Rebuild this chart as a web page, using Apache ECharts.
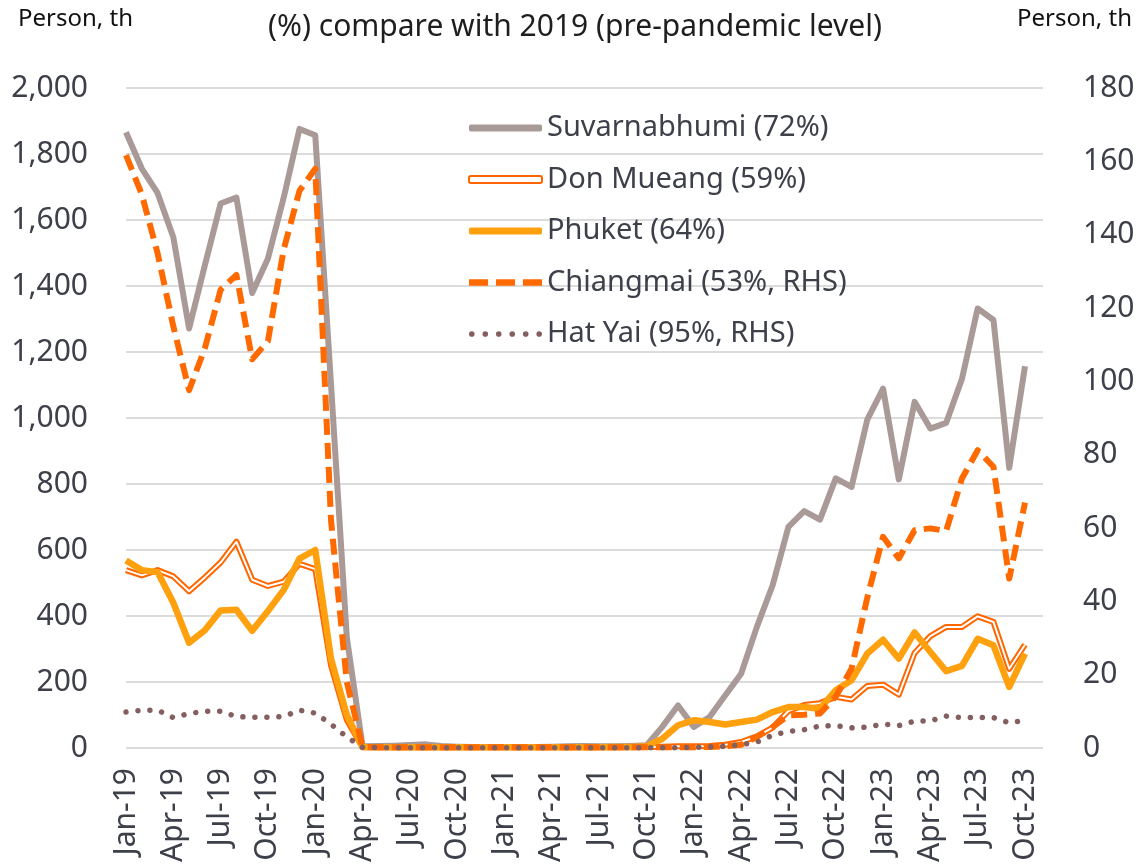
<!DOCTYPE html>
<html><head><meta charset="utf-8">
<script src="https://cdn.jsdelivr.net/npm/echarts@6/dist/echarts.min.js"></script>
<style>html,body{margin:0;padding:0;background:#fff}#c{width:1138px;height:867px}</style>
</head><body><div id="c"></div>
<script>
const categories = ['Jan-19','Feb-19','Mar-19','Apr-19','May-19','Jun-19','Jul-19','Aug-19','Sep-19','Oct-19','Nov-19','Dec-19',
'Jan-20','Feb-20','Mar-20','Apr-20','May-20','Jun-20','Jul-20','Aug-20','Sep-20','Oct-20','Nov-20','Dec-20',
'Jan-21','Feb-21','Mar-21','Apr-21','May-21','Jun-21','Jul-21','Aug-21','Sep-21','Oct-21','Nov-21','Dec-21',
'Jan-22','Feb-22','Mar-22','Apr-22','May-22','Jun-22','Jul-22','Aug-22','Sep-22','Oct-22','Nov-22','Dec-22',
'Jan-23','Feb-23','Mar-23','Apr-23','May-23','Jun-23','Jul-23','Aug-23','Sep-23','Oct-23'];

const seriesNames = ['Suvarnabhumi (72%)','Don Mueang (59%)','Phuket (64%)','Chiangmai (53%, RHS)','Hat Yai (95%, RHS)'];

const suvarnabhumi = [1866,1756,1682,1548,1271,1463,1650,1668,1379,1483,1668,1876,
1857,1100,335,5,6,7,9,11,6,4,3,3,
3,3,3,4,5,6,5,5,6,8,64,129,
64,94,160,225,367,493,670,718,692,817,791,995,
1089,814,1049,968,985,1118,1332,1297,849,1157];

const donMueang = [539,523,539,520,475,517,562,625,510,491,504,558,
542,250,85,2,2,2,2,2,2,2,2,2,
2,2,2,2,2,2,2,2,2,3,4,5,
5,6,10,18,35,62,112,130,136,155,147,188,
192,162,288,339,367,367,399,382,240,313];

const phuket = [568,539,533,440,319,357,417,419,355,415,479,574,
600,270,100,3,2,2,2,2,2,2,2,2,
2,2,2,2,2,2,2,3,3,5,28,69,
84,79,71,79,86,109,124,124,119,175,205,286,
328,271,350,291,233,249,331,311,185,286];

const chiangmai = [161.7,151,135,115,97.6,109,125,129,106,111,136,152,
158,62,18,0.3,0.2,0.2,0.2,0.2,0.2,0.2,0.2,0.2,
0.2,0.2,0.2,0.2,0.2,0.2,0.2,0.2,0.2,0.2,0.2,0.2,
0.2,0.3,0.5,0.9,3.0,5.7,8.9,9.1,9.4,14,21.6,41,
57.6,51.7,59.4,59.9,59.2,73.5,81.2,76.7,46.2,66.9];

const hatYai = [9.8,10.3,10.3,8.3,9.4,10,10,8.6,8.4,8.4,8.6,10.3,
9.5,6.5,3.0,0.2,0.1,0.1,0.1,0.1,0.1,0.1,0.1,0.1,
0.1,0.1,0.1,0.1,0.1,0.1,0.1,0.1,0.1,0.1,0.1,0.1,
0.2,0.3,0.5,0.9,1.6,3.5,4.5,5.0,6.0,6.1,5.5,5.7,
6.5,6.1,7.3,7.4,8.7,8.3,8.3,8.3,6.9,7.5];

const FONT = 'Noto Sans';
const LABEL_COLOR = '#3d4049';
const C_GRAY = '#a99a98', C_DM = '#ff6600', C_PK = '#ffa00f', C_CM = '#ff6a00', C_HY = '#83605f';

const chart = echarts.init(document.getElementById('c'), null, {renderer: 'canvas'});

const fmt = v => v.toLocaleString('en-US');

const option = {
  animation: false,
  backgroundColor: '#ffffff',
  title: [
    {text: '(%) compare with 2019 (pre-pandemic level)', left: 268, top: 12, padding: 0,
     textStyle: {fontFamily: FONT, fontSize: 30, fontWeight: 'normal', color: '#1e1e1e'}},
    {text: 'Person, th', left: 18, top: 7, padding: 0,
     textStyle: {fontFamily: FONT, fontSize: 24, fontWeight: 'normal', color: '#111'}},
    {text: 'Person, th', right: 6, top: 7, padding: 0,
     textStyle: {fontFamily: FONT, fontSize: 24, fontWeight: 'normal', color: '#111'}}
  ],
  legend: {
    orient: 'vertical', left: 468, top: 113, padding: 0,
    itemWidth: 73, itemHeight: 7, itemGap: 21.5,
    textStyle: {fontFamily: FONT, fontSize: 29, color: LABEL_COLOR, lineHeight: 30},
    itemStyle: {borderWidth: 0},
    data: [
      {name: seriesNames[0], icon: 'roundRect'},
      {name: seriesNames[1], icon: 'roundRect', itemStyle: {color: '#ffffff', borderColor: C_DM, borderWidth: 2}},
      {name: seriesNames[2], icon: 'roundRect'},
      {name: seriesNames[3], icon: 'path://M0,0H17V6H0Z M24,0H41V6H24Z M48,0H65V6H48Z'},
      {name: seriesNames[4], icon: 'path://M0,2.5A2.5,2.5 0 1,1 5,2.5A2.5,2.5 0 1,1 0,2.5Z M12,2.5A2.5,2.5 0 1,1 17,2.5A2.5,2.5 0 1,1 12,2.5Z M24,2.5A2.5,2.5 0 1,1 29,2.5A2.5,2.5 0 1,1 24,2.5Z M36,2.5A2.5,2.5 0 1,1 41,2.5A2.5,2.5 0 1,1 36,2.5Z M48,2.5A2.5,2.5 0 1,1 53,2.5A2.5,2.5 0 1,1 48,2.5Z M60,2.5A2.5,2.5 0 1,1 65,2.5A2.5,2.5 0 1,1 60,2.5Z'}
    ]
  },
  grid: [
    {left: 126, right: 95, top: 88, bottom: 119},
    {left: 126, right: 113, top: 88, bottom: 119}
  ],
  xAxis: [
    {gridIndex: 0, type: 'value', min: 0, max: 1, show: false},
    {gridIndex: 1, type: 'category', data: categories, boundaryGap: false,
     axisLine: {show: false}, axisTick: {show: false},
     axisLabel: {interval: 2, rotate: 90, margin: 20, fontFamily: FONT, fontSize: 30, color: LABEL_COLOR}}
  ],
  yAxis: [
    {gridIndex: 0, type: 'value', position: 'left', min: 0, max: 2000, interval: 200,
     axisLine: {show: false}, axisTick: {show: false},
     splitLine: {lineStyle: {color: '#dcdcdc', width: 2}},
     axisLabel: {margin: 38, fontFamily: FONT, fontSize: 30, color: LABEL_COLOR, formatter: fmt, padding: [0,0,10,0]}},
    {gridIndex: 0, type: 'value', position: 'right', min: 0, max: 180, interval: 20,
     axisLine: {show: false}, axisTick: {show: false}, splitLine: {show: false},
     axisLabel: {margin: 40, fontFamily: FONT, fontSize: 30, color: LABEL_COLOR, padding: [0,0,10,0]}},
    {gridIndex: 1, type: 'value', position: 'left', min: 0, max: 2000, interval: 200, show: false, splitLine: {show: false}},
    {gridIndex: 1, type: 'value', position: 'right', min: 0, max: 180, interval: 20, show: false, splitLine: {show: false}}
  ],
  series: [
    {name: seriesNames[0], type: 'line', xAxisIndex: 1, yAxisIndex: 2, data: suvarnabhumi,
     showSymbol: false, symbol: 'none', itemStyle: {color: C_GRAY},
     lineStyle: {color: C_GRAY, width: 6, join: 'round'}},
    {name: seriesNames[1], type: 'line', xAxisIndex: 1, yAxisIndex: 2, data: donMueang,
     showSymbol: false, symbol: 'none', itemStyle: {color: C_DM},
     lineStyle: {color: C_DM, width: 6, join: 'round'}},
    {name: 'Don Mueang inner', type: 'line', xAxisIndex: 1, yAxisIndex: 2, data: donMueang,
     showSymbol: false, symbol: 'none', itemStyle: {color: '#ffffff'}, silent: true,
     lineStyle: {color: '#ffffff', width: 2, join: 'round'}},
    {name: seriesNames[2], type: 'line', xAxisIndex: 1, yAxisIndex: 2, data: phuket,
     showSymbol: false, symbol: 'none', itemStyle: {color: C_PK},
     lineStyle: {color: C_PK, width: 6.5, join: 'round'}},
    {name: seriesNames[3], type: 'line', xAxisIndex: 1, yAxisIndex: 3, data: chiangmai,
     showSymbol: false, symbol: 'none', itemStyle: {color: C_CM},
     lineStyle: {color: C_CM, width: 6, type: [16, 8], join: 'round'}},
    {name: seriesNames[4], type: 'line', xAxisIndex: 1, yAxisIndex: 3, data: hatYai,
     showSymbol: false, symbol: 'none', itemStyle: {color: C_HY},
     lineStyle: {color: C_HY, width: 5.5, type: [0.01, 12], cap: 'round'}}
  ]
};
chart.setOption(option);
</script>
</body></html>
